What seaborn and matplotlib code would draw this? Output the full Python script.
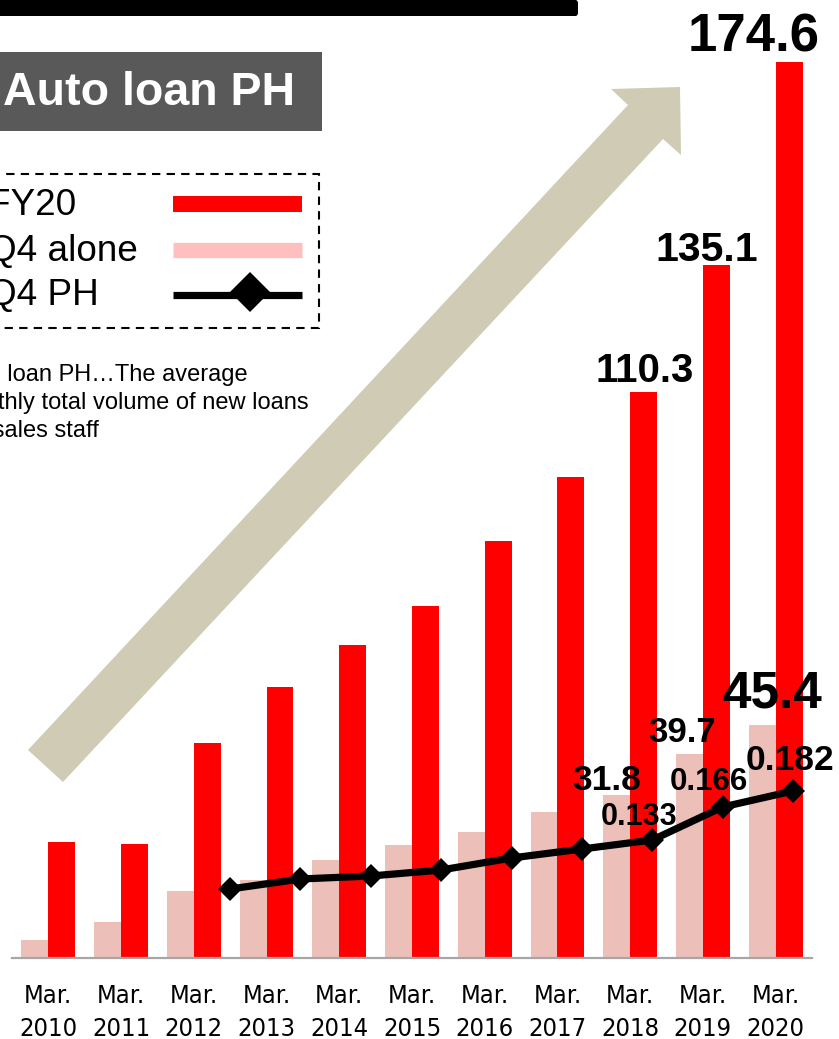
import numpy as np
import pandas as pd
import matplotlib
matplotlib.use("Agg")
import matplotlib.pyplot as plt
import matplotlib.font_manager as fm
from matplotlib.textpath import TextPath
from matplotlib.lines import Line2D
from matplotlib.patches import Polygon, Rectangle, FancyBboxPatch
import seaborn as sns

# ---------------- data ----------------
years = ["2010", "2011", "2012", "2013", "2014", "2015", "2016", "2017", "2018", "2019", "2020"]
fy_values = [22.6, 22.2, 41.9, 52.8, 61.0, 68.6, 81.3, 93.8, 110.3, 135.1, 174.6]
q4_values = [3.5, 7.0, 13.1, 15.2, 19.1, 22.0, 24.6, 28.5, 31.8, 39.7, 45.4]
ph_years = ["2012", "2013", "2014", "2015", "2016", "2017", "2018", "2019", "2020"]
ph_values = [0.084, 0.094, 0.097, 0.103, 0.115, 0.124, 0.133, 0.166, 0.182]
tick_labels = ["Mar.\n" + y for y in years]
series_names = ["FY20", "Q4 alone", "Q4 PH"]
note_text = "Auto loan PH\u2026The average\nmonthly total volume of new loans\nper sales staff"
title_text = "Auto loan PH"

RED = "#FF0000"
PINK = "#EDBFB9"
PINK_LEG = "#FFBFBF"
ARROW = "#CFCBB4"
BOX = "#595959"

sns.set_theme(style="white")
plt.rcParams["font.family"] = ["Liberation Sans", "DejaVu Sans"]

W, H = 839, 1039
fig = plt.figure(figsize=(W / 100, H / 100), dpi=100)


def fx(x):
    return x / W


def fy(y):
    return 1 - y / H


# ---- pick a narrow font for the tick labels, if one is installed ----
def find_narrow():
    cands = []
    for f in fm.fontManager.ttflist:
        nm = f.name.lower()
        st = str(f.stretch).lower()
        if ("narrow" in nm or "condensed" in nm or "condensed" in st or "narrow" in f.fname.lower()
                or "condensed" in f.fname.lower()):
            if f.style == "normal" and str(f.weight) in ("400", "normal", "regular", "book"):
                cands.append(f)
    order = ["liberation sans narrow", "dejavu sans", "noto sans", "roboto", "open sans"]
    for o in order:
        for f in cands:
            if f.name.lower().startswith(o):
                return fm.FontProperties(fname=f.fname)
    if cands:
        return fm.FontProperties(fname=cands[0].fname)
    return fm.FontProperties(family="Liberation Sans")


tick_fp = find_narrow()
w1 = TextPath((0, 0), "2010", size=1, prop=tick_fp).get_extents().width
tick_size = min(20.0, max(15.0, 55.0 / (w1 * 100 / 72)))
tick_fp.set_size(tick_size)

# main axes: bars
ax = fig.add_axes([fx(12), fy(958), 800 / W, 958 / H])
df = pd.DataFrame({
    "year": years * 2,
    "value": q4_values + fy_values,
    "series": ["Q4 alone"] * len(years) + ["FY20"] * len(years),
})
sns.barplot(data=df, x="year", y="value", hue="series",
            hue_order=["Q4 alone", "FY20"], palette=[PINK, RED],
            width=0.74, gap=0, saturation=1, linewidth=0,
            legend=False, ax=ax, order=years)
ax.set_xlim(-0.5, 10.5)
ax.set_ylim(0, 958 / 5.13)
ax.set_xlabel("")
ax.set_ylabel("")
ax.set_yticks([])
ax.set_xticks(range(len(years)))
ax.set_xticklabels(tick_labels, linespacing=1.45, color="black")
for lab in ax.get_xticklabels():
    lab.set_fontproperties(tick_fp)
ax.tick_params(axis="x", length=0, pad=19)
for s in ["top", "right", "left"]:
    ax.spines[s].set_visible(False)
ax.spines["bottom"].set_color("#A6A6A6")
ax.spines["bottom"].set_linewidth(1.6)
ax.patch.set_alpha(0)

# bar value labels
bar_w = 0.37
red_labels = {8: (1, 10, 29), 9: (-10, 4, 29.5), 10: (-35, 11, 38)}
for i, (dx, dy, fs) in red_labels.items():
    ax.annotate(f"{fy_values[i]:.1f}", xy=(i + bar_w / 2, fy_values[i]),
                xytext=(dx, dy), textcoords="offset pixels",
                ha="center", va="baseline", fontsize=fs, fontweight="bold",
                color="black", annotation_clip=False)
pink_labels = {8: (-10, 5, 25.5), 9: (-7, 12, 25), 10: (10, 18, 37)}
for i, (dx, dy, fs) in pink_labels.items():
    ax.annotate(f"{q4_values[i]:.1f}", xy=(i - bar_w / 2, q4_values[i]),
                xytext=(dx, dy), textcoords="offset pixels",
                ha="center", va="baseline", fontsize=fs, fontweight="bold",
                color="black", annotation_clip=False, zorder=6)

# line axes (PH)
ax2 = fig.add_axes([fx(12), fy(958), 800 / W, 958 / H])
ax2.patch.set_alpha(0)
ax2.set_zorder(ax.get_zorder() + 1)
ph_x = np.arange(len(ph_years))
sns.lineplot(x=ph_x, y=ph_values, ax=ax2, color="black", linewidth=5.2,
             marker="D", markersize=12, markeredgewidth=0, markerfacecolor="black")
ax2.set_xlim((12 - 230) / 70.375, (812 - 230) / 70.375)
ax2.set_ylim(0.015, 0.973)
ax2.axis("off")
ph_labels = {6: (-13, 15, 22), 7: (-14, 17, 22.5), 8: (-3, 21, 25.5)}
for i, (dx, dy, fs) in ph_labels.items():
    ax2.annotate(f"{ph_values[i]:.3f}", xy=(ph_x[i], ph_values[i]),
                 xytext=(dx, dy), textcoords="offset pixels",
                 ha="center", va="baseline", fontsize=fs, fontweight="bold",
                 color="black", annotation_clip=False)

# big arrow (decoration)
arrow_pts = [(28, 750), (628, 105), (611, 89), (680, 87), (681, 155), (663, 139), (63, 782)]
fig.patches.append(Polygon([(fx(x), fy(y)) for x, y in arrow_pts], closed=True,
                           facecolor=ARROW, edgecolor="none",
                           transform=fig.transFigure, zorder=0))

# top black bar
fig.patches.append(FancyBboxPatch((fx(-10), fy(16)), fx(588), 16 / H,
                                  boxstyle="round,pad=0,rounding_size=0.003",
                                  facecolor="black", edgecolor="none",
                                  transform=fig.transFigure, zorder=1))
# title box
fig.patches.append(Rectangle((fx(-10), fy(131)), fx(332), 79 / H,
                             facecolor=BOX, edgecolor="none",
                             transform=fig.transFigure, zorder=1))
fig.text(fx(3), fy(93), title_text, color="white", fontsize=33.5,
         fontweight="bold", ha="left", va="center", zorder=2)

# note text
fig.text(fx(-48), fy(364), note_text,
         fontsize=17, color="black", ha="left", va="top", linespacing=1.34)

# legend (drawn as a dashed box with text and sample lines)
fig.patches.append(Rectangle((fx(-10), fy(328)), fx(329), 154 / H,
                             facecolor="white", edgecolor="black", linewidth=1.5,
                             linestyle=(0, (4, 3)), transform=fig.transFigure, zorder=1))
row_y = [206, 251, 295]
for name, yy in zip(series_names, row_y):
    fig.text(fx(-12), fy(yy), name, fontsize=26.6, color="black",
             ha="left", va="center", zorder=3)
fig.add_artist(Line2D([fx(173), fx(302)], [fy(204), fy(204)], color=RED,
                      linewidth=11.5, solid_capstyle="butt", transform=fig.transFigure, zorder=3))
fig.add_artist(Line2D([fx(173), fx(302)], [fy(249.5), fy(249.5)], color=PINK_LEG,
                      linewidth=11, solid_capstyle="butt", transform=fig.transFigure, zorder=3))
fig.add_artist(Line2D([fx(173), fx(302)], [fy(295), fy(295)], color="black",
                      linewidth=5.2, solid_capstyle="butt", transform=fig.transFigure, zorder=3))
fig.add_artist(Line2D([fx(250)], [fy(292)], color="black", linestyle="none",
                      marker="D", markersize=20.5, markeredgewidth=0,
                      transform=fig.transFigure, zorder=4))

fig.savefig("out.png", dpi=100)
